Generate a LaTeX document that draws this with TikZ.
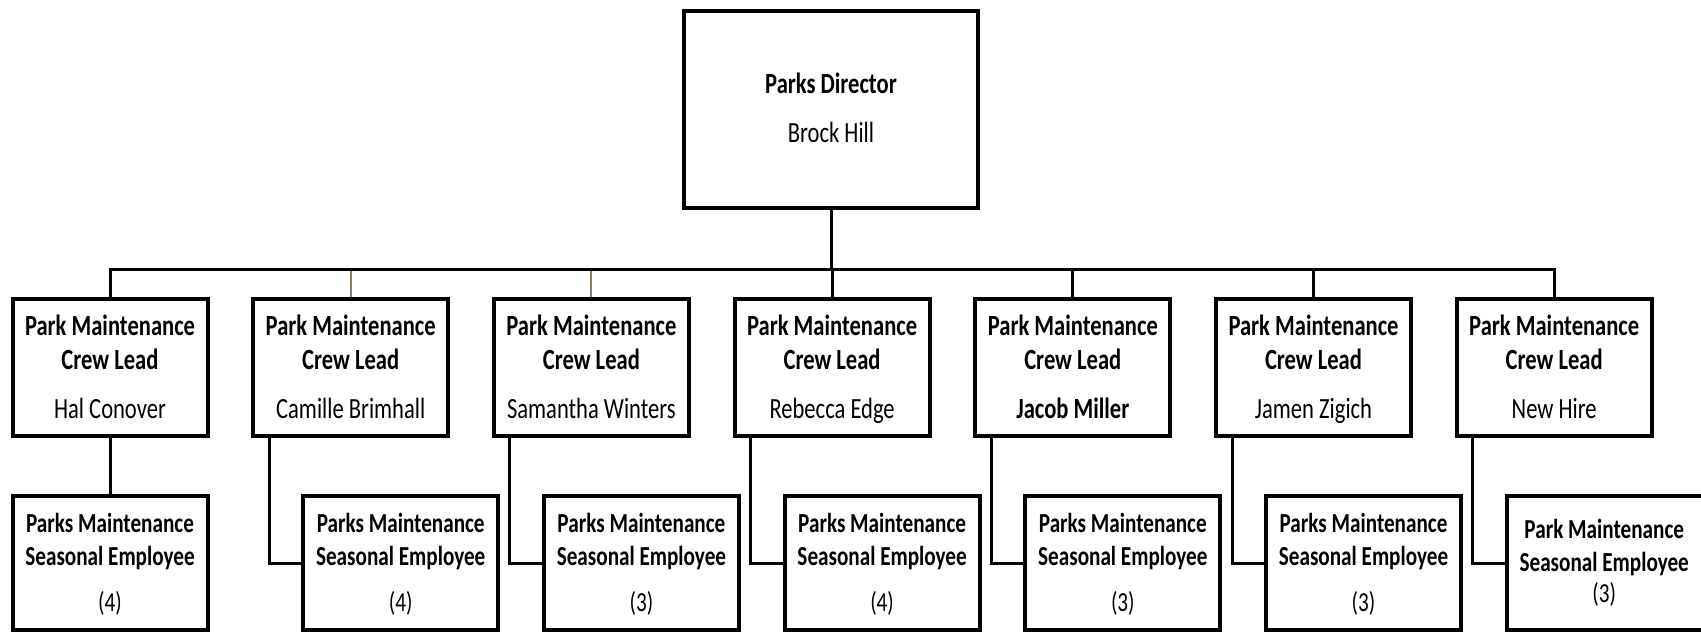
\documentclass[tikz,border=0pt]{standalone}
\usepackage{fontspec}
\setmainfont{Carlito}[FakeStretch=0.77]
\definecolor{stub}{HTML}{8B7D6B}
\begin{document}
\begin{tikzpicture}[x=1pt,y=-1pt,
  boxline/.style={draw=black,line width=4pt,inner sep=0pt},
  dirbox/.style={boxline,minimum width=294pt,minimum height=197pt},
  leadbox/.style={boxline,minimum width=195pt,minimum height=137pt},
  crewbox/.style={boxline,minimum width=195pt,minimum height=134pt},
  ttl/.style={font=\fontsize{29.3}{34}\selectfont\bfseries,inner sep=0pt,anchor=base},
  nm/.style={font=\fontsize{29.3}{34}\selectfont,inner sep=0pt,anchor=base},
  sttl/.style={font=\fontsize{27.5}{32}\selectfont\bfseries,inner sep=0pt,anchor=base},
  snum/.style={font=\fontsize{27.5}{32}\selectfont,inner sep=0pt,anchor=base},
  link/.style={line width=3pt,draw=black},
  faint/.style={line width=2pt,draw=stub},
]
\useasboundingbox (0,0) rectangle (1701,633);

% Director
\node[dirbox] (dir) at (831,109.5) {};
\node[ttl] (dirt) at (831,93.3) {Parks Director};
\node[nm] (dirn) at (831,142.3) {Brock Hill};

% Crew leads
\foreach \i/\who in {1/Hal Conover, 2/Camille Brimhall, 3/Samantha Winters,
    4/Rebecca Edge, 5/{\bfseries Jacob Miller}, 6/Jamen Zigich, 7/New Hire}{
  \pgfmathsetmacro{\cx}{110+240.7*(\i-1)}
  \node[leadbox] (c\i) at (\cx,367.5) {};
  \node[ttl] (c\i a) at (\cx,335) {Park Maintenance};
  \node[ttl] (c\i b) at (\cx,369) {Crew Lead};
  \node[nm] (c\i n) at (\cx,418) {\who};
}

% Seasonal employee boxes (the last one runs past the right edge)
\node[crewbox] (s1) at (110,563) {};
\foreach \i in {2,...,6}{
  \pgfmathsetmacro{\sx}{160+240.7*(\i-1)}
  \node[crewbox] (s\i) at (\sx,563) {};
}
\node[crewbox,minimum width=215pt] (s7) at (1614.2,563) {};
\foreach \i/\cnt in {1/4, 2/4, 3/3, 4/4, 5/3, 6/3}{
  \node[sttl] (s\i a) at (s\i.center |- 0,532) {Parks Maintenance};
  \node[sttl] (s\i b) at (s\i.center |- 0,565) {Seasonal Employee};
  \node[snum] (s\i n) at (s\i.center |- 0,611) {(\cnt)};
}
\node[sttl] (s7a) at (1604.2,538.5) {Park Maintenance};
\node[sttl] (s7b) at (1604.2,571) {Seasonal Employee};
\node[snum] (s7n) at (1604.2,602) {(3)};

% Reporting lines
\coordinate (bus) at (0,269);
\draw[link] (dir.south) -- (dir.south |- bus);
\draw[link] (c1.north) -- (c1.north |- bus) -- (c7.north |- bus) -- (c7.north);
\foreach \i in {4,5,6}{
  \draw[link] (c\i.north) -- (c\i.north |- bus);
}
\foreach \i in {2,3}{
  \draw[faint] ([yshift=-1.5pt]c\i.north |- bus) -- (c\i.north);
}
\draw[link] (c1.south) -- (s1.north);
\foreach \i in {2,...,7}{
  \draw[link] ([xshift=18pt]c\i.south west) |- (s\i.west);
}
\end{tikzpicture}
\end{document}
